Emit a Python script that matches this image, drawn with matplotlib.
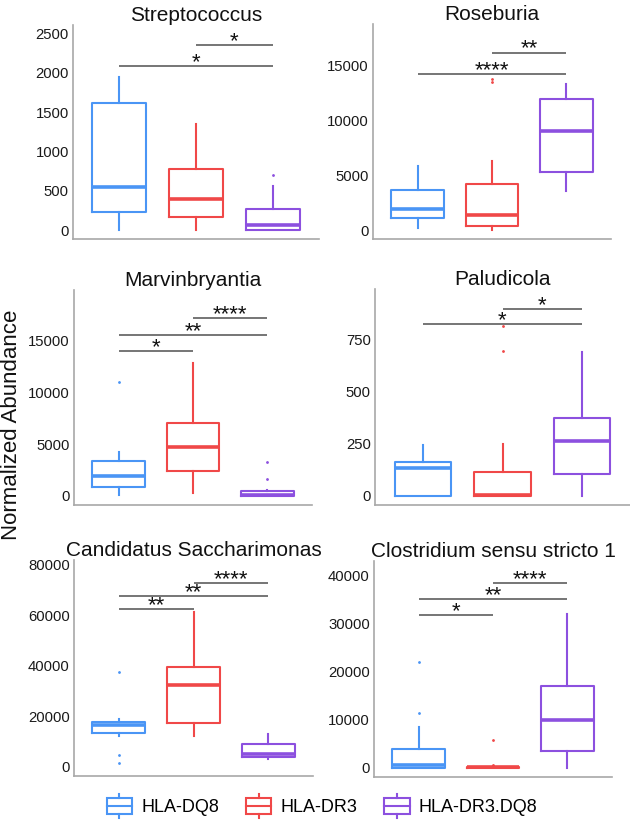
import matplotlib
matplotlib.use("Agg")
import matplotlib.pyplot as plt
from matplotlib.legend_handler import HandlerBase
from matplotlib.patches import Rectangle
from matplotlib.lines import Line2D

plt.rcParams['font.family'] = ['Liberation Sans', 'DejaVu Sans']

# ---------------- data ----------------
titles = ["Streptococcus", "Roseburia", "Marvinbryantia", "Paludicola",
          "Candidatus Saccharimonas", "Clostridium sensu stricto 1"]
groups = ["HLA-DQ8", "HLA-DR3", "HLA-DR3.DQ8"]
colors = ["#4A95F5", "#F04848", "#8C50DF"]

whisker_low = [[0, 0, 0], [213, 0, 3560], [64, 258, 0],
               [0, 0, 0], [12300, 12160, 3040], [0, 0, 0]]
q1 = [[225, 170, 0], [1065, 365, 5295], [901, 2383, 0],
      [0, 0, 103], [13220, 17320, 3970], [0, 0, 3470]]
median = [[551, 390, 64], [1887, 1369, 9068], [1964, 4701, 97],
          [133, 2, 263], [16390, 32260, 5020], [624, 40, 9980]]
q3 = [[1610, 780, 267], [3682, 4230, 11990], [3413, 7084, 515],
      [162, 114, 373], [17850, 39660, 8990], [3950, 150, 16910]]
whisker_high = [[1950, 1348, 564], [5843, 6330, 13330], [4283, 12816, 600],
                [242, 248, 692], [19040, 61210, 12960], [8460, 300, 32020]]
outliers = [[[], [], [704]],
            [[], [13815, 13540], []],
            [[11045], [], [3284, 1610]],
            [[], [817, 697], []],
            [[37680, 4630, 1590], [], []],
            [[21970, 11440], [5820, 485], []]]

# significance comparisons: (group a, group b, bar height, label)
comparisons = [
    [(1, 2, 2353, "*"), (0, 2, 2090, "*")],
    [(1, 2, 16190, "**"), (0, 2, 14240, "****")],
    [(1, 2, 17230, "****"), (0, 2, 15550, "**"), (0, 1, 14000, "*")],
    [(1, 2, 896, "*"), (0, 2, 825, "*")],
    [(1, 2, 72970, "****"), (0, 2, 67820, "**"), (0, 1, 62530, "**")],
    [(1, 2, 38460, "****"), (0, 2, 35130, "**"), (0, 1, 31740, "*")],
]

y_ticks = [[0, 500, 1000, 1500, 2000, 2500],
           [0, 5000, 10000, 15000],
           [0, 5000, 10000, 15000],
           [0, 250, 500, 750],
           [0, 20000, 40000, 60000, 80000],
           [0, 10000, 20000, 30000, 40000]]
y_limits = [(-114, 2608), (-820, 18800), (-870, 19900),
            (-45, 994), (-3700, 81960), (-1940, 42970)]

# ---------------- layout ----------------
W, H = 630, 824
fig = plt.figure(figsize=(W / 100, H / 100), dpi=100)

# (left, right, top, bottom) in pixels
boxes_px = [(73, 319, 25, 239), (373, 611, 24, 239),
            (74, 312, 290, 505), (375, 630, 289, 505),
            (74, 313, 560, 776), (374, 612, 561, 777)]

spine_col = "#A8A8A8"
for k, (l, r, t, b) in enumerate(boxes_px):
    ax = fig.add_axes([l / W, (H - b) / H, (r - l) / W, (b - t) / H])
    stats = []
    for g in range(3):
        stats.append(dict(whislo=whisker_low[k][g], q1=q1[k][g], med=median[k][g],
                          q3=q3[k][g], whishi=whisker_high[k][g],
                          fliers=outliers[k][g]))
    for g in range(3):
        c = colors[g]
        ax.bxp([stats[g]], positions=[g + 1], widths=0.71, showcaps=False,
               patch_artist=False,
               boxprops=dict(color=c, linewidth=1.5),
               whiskerprops=dict(color=c, linewidth=1.5),
               medianprops=dict(color=c, linewidth=2.6),
               flierprops=dict(marker='o', markersize=1.0, markerfacecolor=c,
                               markeredgecolor=c, linestyle='none'))
    for (a, bgrp, yb, lab) in comparisons[k]:
        ax.plot([a + 1, bgrp + 1], [yb, yb], color="#505050", linewidth=1.1,
                solid_capstyle='butt')
        ax.annotate(lab, xy=((a + bgrp) / 2 + 1, yb), xytext=(0, -1.5),
                    textcoords='offset points', ha='center', va='baseline',
                    fontsize=16, color='#111111')
    ax.set_xlim(0.4, 3.6)
    ax.set_ylim(*y_limits[k])
    ax.set_yticks(y_ticks[k])
    ax.set_yticklabels([str(v) for v in y_ticks[k]])
    ax.set_xticks([])
    ax.tick_params(axis='y', length=0, pad=3, labelsize=10.7, labelcolor='#1a1a1a')
    for s in ['top', 'right']:
        ax.spines[s].set_visible(False)
    for s in ['left', 'bottom']:
        ax.spines[s].set_color(spine_col)
        ax.spines[s].set_linewidth(1.2)
    ax.set_title(titles[k], fontsize=15, pad=3, color='#111111')

fig.text(12 / W, (H - 425) / H, "Normalized Abundance", rotation=90,
         ha='center', va='center', fontsize=16, color='#111111')


# ---------------- legend with box glyphs ----------------
class BoxHandler(HandlerBase):
    def create_artists(self, legend, orig_handle, xdescent, ydescent,
                       width, height, fontsize, trans):
        c = orig_handle.get_color()
        x0, y0 = -xdescent, -ydescent
        ext = height * 0.25
        rect = Rectangle((x0, y0), width, height, facecolor='none',
                         edgecolor=c, linewidth=1.5, transform=trans)
        med = Line2D([x0, x0 + width], [y0 + height / 2] * 2, color=c,
                     linewidth=1.5, transform=trans)
        wu = Line2D([x0 + width / 2] * 2, [y0 + height, y0 + height + ext],
                    color=c, linewidth=1.5, transform=trans)
        wd = Line2D([x0 + width / 2] * 2, [y0, y0 - ext], color=c,
                    linewidth=1.5, transform=trans)
        return [rect, med, wu, wd]


handles = [Line2D([], [], color=c) for c in colors]
fig.legend(handles, groups, loc='center', bbox_to_anchor=(322 / W, (H - 807) / H),
           ncol=3, frameon=False, fontsize=13, handlelength=1.4,
           handleheight=1.0, handletextpad=0.5, columnspacing=1.5,
           handler_map={Line2D: BoxHandler()})

fig.savefig("out.png", dpi=100)
